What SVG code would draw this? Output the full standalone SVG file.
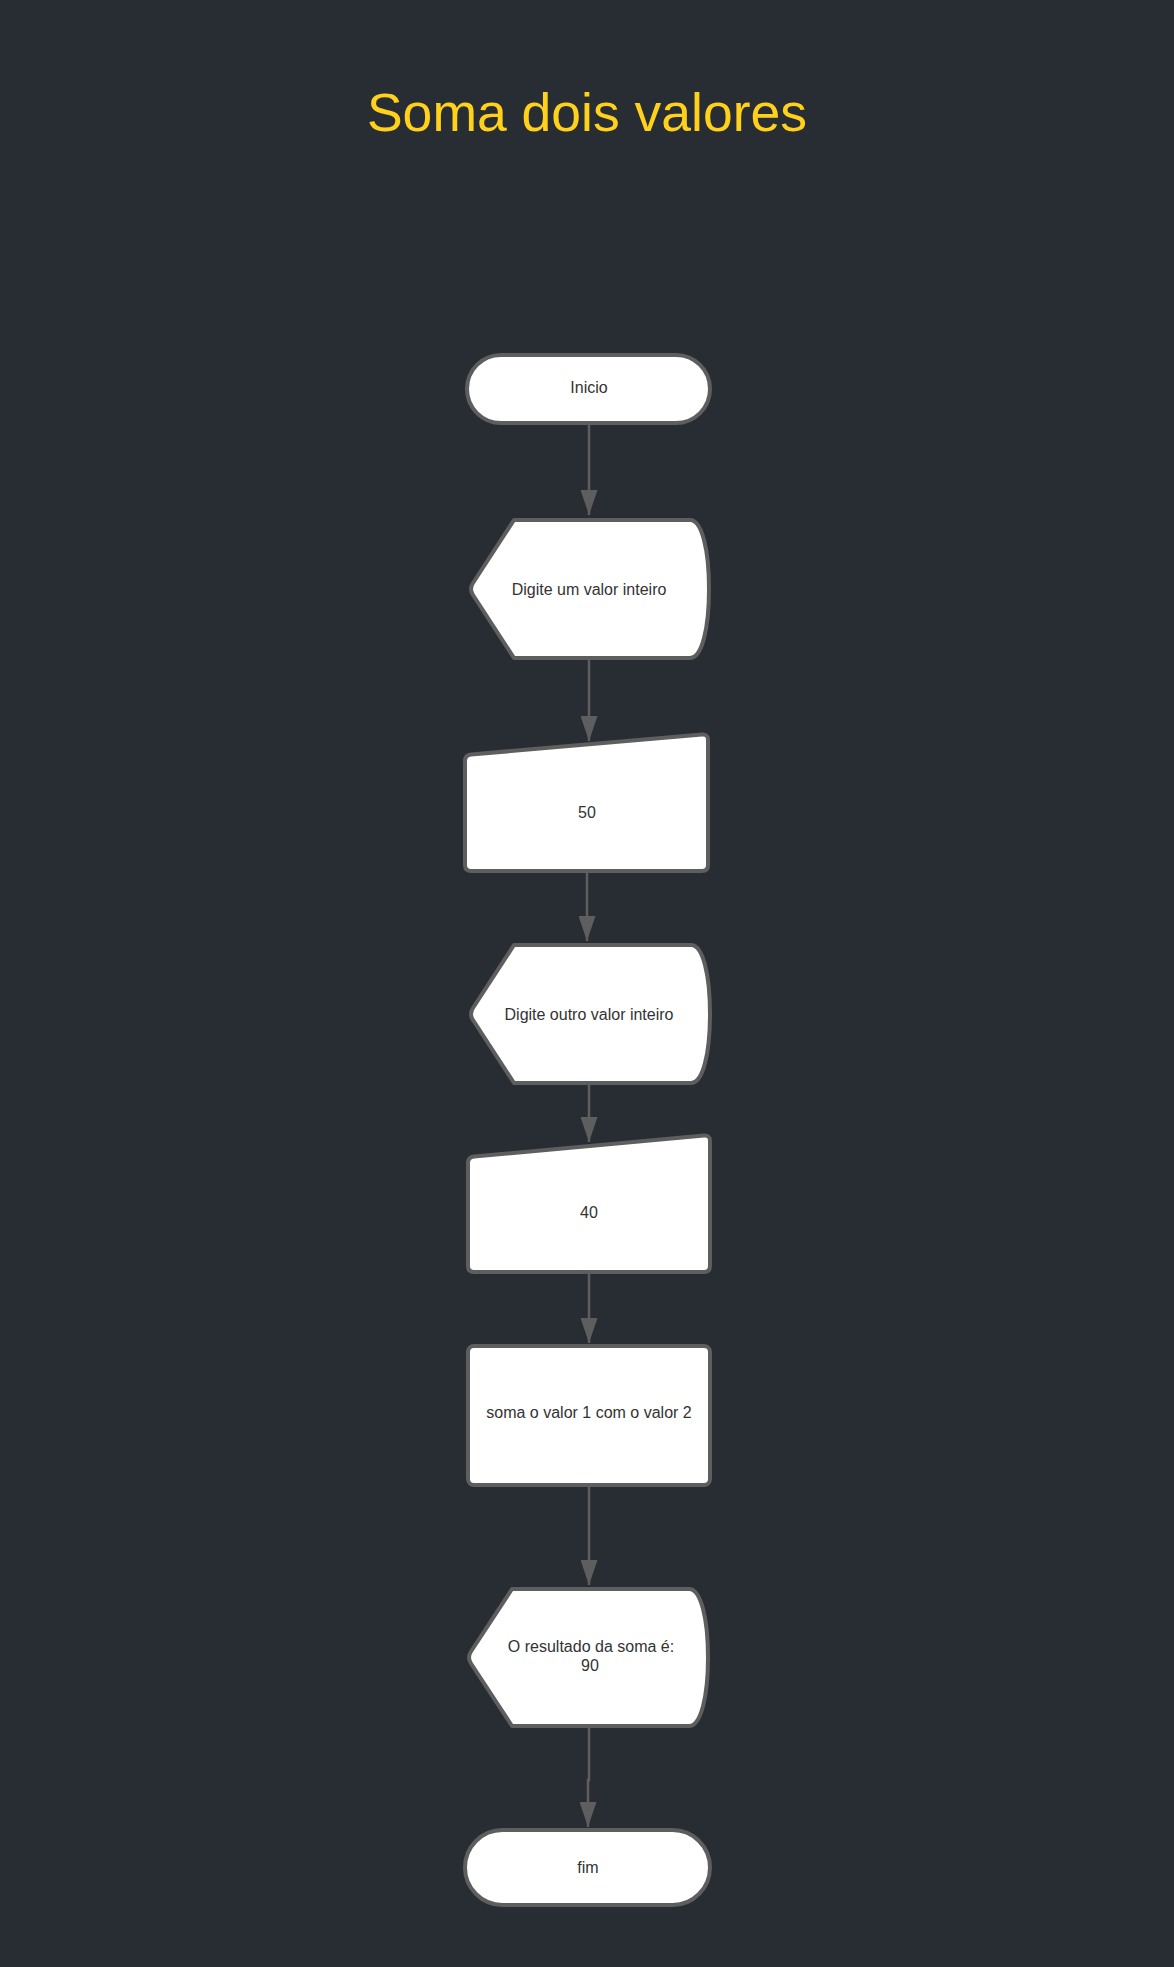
<svg xmlns="http://www.w3.org/2000/svg" width="1174" height="1967" viewBox="0 0 1174 1967">
<style>
.shape{fill:#ffffff;stroke:#5e5e5e;stroke-width:4;stroke-linejoin:round}
.lbl{font-family:"Liberation Sans",Arial,sans-serif;font-size:16px;fill:#333333;text-anchor:middle}
.conn{stroke:#5e5e5e;stroke-width:2.5;fill:none}
.title{font-family:"Liberation Sans",Arial,sans-serif;font-size:53.5px;fill:#ffd11a;text-anchor:middle}
</style>
<defs>
<marker id="ah" markerUnits="userSpaceOnUse" viewBox="0 0 25 17" refX="25" refY="8.5" markerWidth="25" markerHeight="17" orient="auto">
<path d="M0,0 L25,8.5 L0,17 Z" fill="#5e5e5e"/>
</marker>
</defs>
<rect width="1174" height="1967" fill="#282c33"/>
<text class="title" x="587" y="131">Soma dois valores</text>
<g id="connectors">
<line class="conn" x1="589" y1="425" x2="589" y2="515" marker-end="url(#ah)"/>
<line class="conn" x1="589" y1="660" x2="589" y2="741" marker-end="url(#ah)"/>
<line class="conn" x1="587" y1="873" x2="587" y2="941" marker-end="url(#ah)"/>
<line class="conn" x1="589" y1="1085" x2="589" y2="1142" marker-end="url(#ah)"/>
<line class="conn" x1="589" y1="1274" x2="589" y2="1343" marker-end="url(#ah)"/>
<line class="conn" x1="589" y1="1487" x2="589" y2="1585" marker-end="url(#ah)"/>
<polyline class="conn" points="589,1728 589,1780 588,1780 588,1827" marker-end="url(#ah)"/>
</g>
<g id="inicio">
<rect class="shape" x="467" y="355" width="243" height="68" rx="34"/>
<text class="lbl" x="589" y="393">Inicio</text>
</g>
<g id="display1">
<path class="shape" d="M514,520 L690,520 C702,520 709,550 709,589 C709,628 702,658 690,658 L514,658 L473,595 Q469,589 473,583 Z"/>
<text class="lbl" x="589" y="595">Digite um valor inteiro</text>
</g>
<g id="input1">
<path class="shape" d="M465,761 Q465,755 471,754.5 L702,734.5 Q708,734 708,740 L708,865 Q708,871 702,871 L471,871 Q465,871 465,865 Z"/>
<text class="lbl" x="587" y="818">50</text>
</g>
<g id="display2">
<path class="shape" d="M514,945 L691,945 C703,945 710,975 710,1014 C710,1053 703,1083 691,1083 L514,1083 L473,1020 Q469,1014 473,1008 Z"/>
<text class="lbl" x="589" y="1020">Digite outro valor inteiro</text>
</g>
<g id="input2">
<path class="shape" d="M468,1163 Q468,1157 474,1156.5 L704,1135.5 Q710,1135 710,1141 L710,1266 Q710,1272 704,1272 L474,1272 Q468,1272 468,1266 Z"/>
<text class="lbl" x="589" y="1218">40</text>
</g>
<g id="process">
<rect class="shape" x="468" y="1346" width="242" height="139" rx="6"/>
<text class="lbl" x="589" y="1418">soma o valor 1 com o valor 2</text>
</g>
<g id="display3">
<path class="shape" d="M512,1589 L689,1589 C701,1589 708,1619 708,1657.5 C708,1696 701,1726 689,1726 L512,1726 L471,1663.5 Q467,1657.5 471,1651.5 Z"/>
<text class="lbl" x="591" y="1652">O resultado da soma é:</text>
<text class="lbl" x="590" y="1671">90</text>
</g>
<g id="fim">
<rect class="shape" x="465" y="1830" width="245" height="75" rx="37.5"/>
<text class="lbl" x="588" y="1873">fim</text>
</g>
</svg>
